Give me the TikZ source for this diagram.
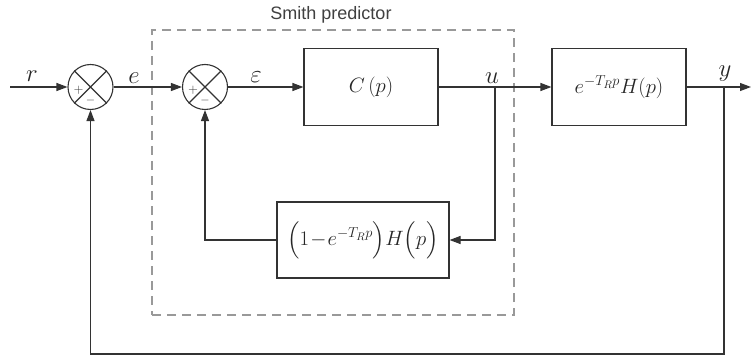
\documentclass[tikz,border=0pt]{standalone}
\usepackage{amsmath}
\usepackage{fontspec}
\setsansfont{Liberation Sans}
\usetikzlibrary{arrows.meta,calc}
\definecolor{lncol}{HTML}{333333}
\definecolor{dashcol}{HTML}{999999}
\begin{document}
\begin{tikzpicture}[x=1pt,y=-1pt,line width=1.1pt,color=lncol,
  blk/.style={draw=lncol,rectangle,inner sep=0pt,text=black!85,font=\fontsize{22}{26}\selectfont},
  sumn/.style={draw=lncol,circle,minimum size=45pt,inner sep=0pt},
  lab/.style={inner sep=0pt,text=black!85,font=\fontsize{23}{27}\selectfont},
  pm/.style={inner sep=0pt,font=\fontsize{13}{15}\selectfont},
  arr/.style={-{Triangle[length=11pt,width=8pt]}},
  dbox/.style={draw=dashcol,line width=1.2pt,dash pattern=on 9pt off 6pt,rectangle,inner sep=0pt}]
\useasboundingbox (0,0) rectangle (751,358);
% Smith predictor frame
\node[dbox,minimum width=362pt,minimum height=285pt] (sp) at (333,172.5) {};
\node[inner sep=0pt,font=\sffamily\fontsize{18}{22}\selectfont,text=black!75] (spl) at (331,15) {Smith predictor};
% summing junctions
\node[sumn] (s1) at (90.5,87) {};
\node[sumn] (s2) at (205,87) {};
\foreach \s in {s1,s2}{
  \draw (\s.north west) -- (\s.south east) (\s.north east) -- (\s.south west);
  \node[pm] at ($(\s)+(-12,3)$) {+};
  \node[pm] at ($(\s)+(0,14)$) {$-$};
}
% blocks
\node[blk,minimum width=134pt,minimum height=77pt] (C) at (371,87) {$C\,(p)$};
\node[blk,minimum width=134pt,minimum height=77pt] (P) at (619,87) {$e^{-T_R p}H(p)$};
\node[blk,minimum width=172pt,minimum height=76pt] (F) at (363,240) {$\Bigl(1\!-\!e^{-T_R p}\Bigr)H\Bigl(p\Bigr)$};
% coordinates
\coordinate (in) at (10,87);
\coordinate (bu) at (495,87);
\coordinate (by) at (724,87);
\coordinate (out) at (751,87);
\coordinate (bot) at (724,354);
% connectors
\draw[arr] (in) -- (s1.west);
\draw[arr] (s1.east) -- (s2.west);
\draw[arr] (s2.east) -- (C.west);
\draw (C.east) -- (bu);
\draw[arr] (bu) -- (P.west);
\draw (P.east) -- (by);
\draw[arr] (by) -- (out);
\draw[arr] (bu) |- (F.east);
\draw[arr] (F.west) -| (s2.south);
\draw[arr] (by) -- (bot) -| (s1.south);
% labels
\node[lab] (lr) at (32,76) {$r$};
\node[lab] (le) at (134,78) {$e$};
\node[lab] (leps) at (256,77) {$\varepsilon$};
\node[lab] (lu) at (492,78) {$u$};
\node[lab] (ly) at (725,74) {$y$};
\end{tikzpicture}
\end{document}
